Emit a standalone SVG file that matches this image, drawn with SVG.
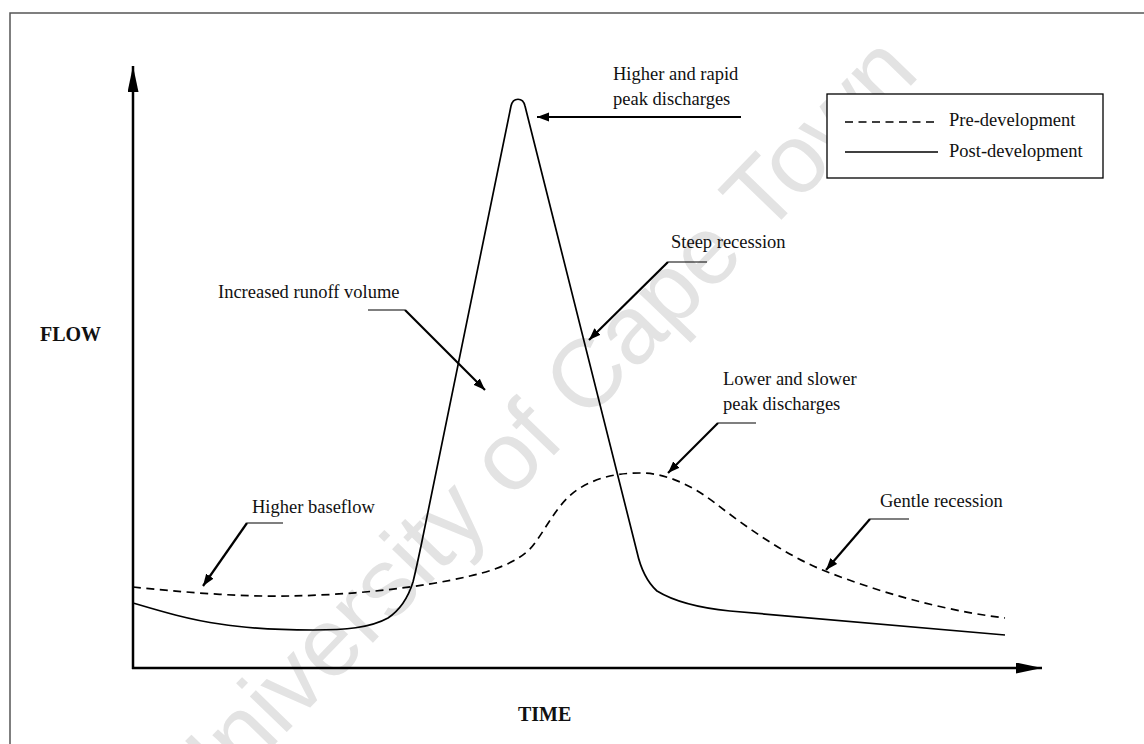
<svg xmlns="http://www.w3.org/2000/svg" width="1144" height="744" viewBox="0 0 1144 744">
  <style>
    .lbl { font-family: "Liberation Serif", "Times New Roman", serif; font-size: 18.5px; fill: #111; }
    .axis-title { font-family: "Liberation Serif", "Times New Roman", serif; font-size: 20px; font-weight: bold; fill: #111; }
    .axis { fill: none; stroke: #000; stroke-width: 2.5; }
    .post { fill: none; stroke: #000; stroke-width: 1.7; stroke-linejoin: round; }
    .pre { fill: none; stroke: #000; stroke-width: 1.7; stroke-dasharray: 8 5.5; }
    .tail { fill: none; stroke: #000; stroke-width: 1.2; }
    .pointer { fill: none; stroke: #000; stroke-width: 2.2; }
    .watermark { font-family: "Liberation Sans", Arial, sans-serif; font-size: 97px; fill: #e3e3e3; }
  </style>
  <defs>
    <marker id="head" markerUnits="userSpaceOnUse" markerWidth="14" markerHeight="10" refX="12" refY="4.5" orient="auto">
      <path d="M0,0 L12,4.5 L0,9 Z" fill="#000"/>
    </marker>
    <marker id="axisHead" markerUnits="userSpaceOnUse" markerWidth="28" markerHeight="12" refX="26" refY="5.5" orient="auto">
      <path d="M0,0 L26,5.5 L0,11 Z" fill="#000"/>
    </marker>
  </defs>

  <rect width="1144" height="744" fill="#fff"/>

  <!-- background stamp -->
  <text class="watermark" transform="translate(196,826) rotate(-46)">University of Cape Town</text>

  <!-- page frame (top and left edges) -->
  <path d="M10,744 L10,13 L1144,13" fill="none" stroke="#555" stroke-width="1.5"/>

  <!-- axes -->
  <g id="axes">
    <line class="axis" x1="133" y1="669" x2="133" y2="66" marker-end="url(#axisHead)"/>
    <line class="axis" x1="132" y1="668" x2="1042" y2="668" marker-end="url(#axisHead)"/>
    <text class="axis-title" x="40" y="341">FLOW</text>
    <text class="axis-title" x="518" y="721">TIME</text>
  </g>

  <!-- hydrographs -->
  <g id="post-development-curve">
    <path class="post" d="M133,603 C160,611 190,620 220,624 C245,628 270,630 313,630 C345,630 370,628 388,618 C400,610 408,598 413,582 C416,570 418,560 421,546 L511,106 C513,97 523,97 525,106 L637,552 C641,570 647,582 657,591 C675,602 700,608 730,611 L1005,635"/>
  </g>
  <g id="pre-development-curve">
    <path class="pre" d="M133,587 C180,592 240,597 290,596 C350,595 420,588 470,576 C505,568 525,557 535,543 C550,522 560,500 580,488 C600,476 620,473 640,473 C665,473 690,484 715,503 C750,530 790,558 830,573 C880,592 940,610 1005,618"/>
  </g>

  <!-- legend -->
  <g id="legend">
    <rect x="827" y="94" width="276" height="84" fill="#fff" stroke="#000" stroke-width="1.3"/>
    <line class="pre" x1="845" y1="122" x2="938" y2="122"/>
    <line class="post" x1="845" y1="152" x2="938" y2="152"/>
    <text class="lbl" x="949" y="126">Pre-development</text>
    <text class="lbl" x="949" y="157">Post-development</text>
  </g>

  <!-- annotation labels -->
  <g id="label-peak-post">
    <text class="lbl" x="613" y="80">Higher and rapid</text>
    <text class="lbl" x="613" y="105">peak discharges</text>
  </g>
  <g id="label-runoff">
    <text class="lbl" x="218" y="298">Increased runoff volume</text>
  </g>
  <g id="label-steep">
    <text class="lbl" x="671" y="248">Steep recession</text>
  </g>
  <g id="label-peak-pre">
    <text class="lbl" x="723" y="385">Lower and slower</text>
    <text class="lbl" x="723" y="410">peak discharges</text>
  </g>
  <g id="label-gentle">
    <text class="lbl" x="880" y="507">Gentle recession</text>
  </g>
  <g id="label-baseflow">
    <text class="lbl" x="252" y="513">Higher baseflow</text>
  </g>

  <!-- leader arrows -->
  <g id="connectors">
    <line class="pointer" x1="741" y1="117" x2="537" y2="117" marker-end="url(#head)"/>

    <line class="tail" x1="368" y1="310" x2="405" y2="310"/>
    <line class="pointer" x1="405" y1="310" x2="485" y2="390" marker-end="url(#head)"/>

    <line class="tail" x1="707" y1="262" x2="668" y2="262"/>
    <line class="pointer" x1="668" y1="262" x2="589" y2="340" marker-end="url(#head)"/>

    <line class="tail" x1="756" y1="423" x2="718" y2="423"/>
    <line class="pointer" x1="718" y1="423" x2="668" y2="473" marker-end="url(#head)"/>

    <line class="tail" x1="909" y1="519" x2="870" y2="519"/>
    <line class="pointer" x1="870" y1="519" x2="826" y2="570" marker-end="url(#head)"/>

    <line class="tail" x1="283" y1="523" x2="247" y2="523"/>
    <line class="pointer" x1="247" y1="523" x2="203" y2="586" marker-end="url(#head)"/>
  </g>
</svg>
